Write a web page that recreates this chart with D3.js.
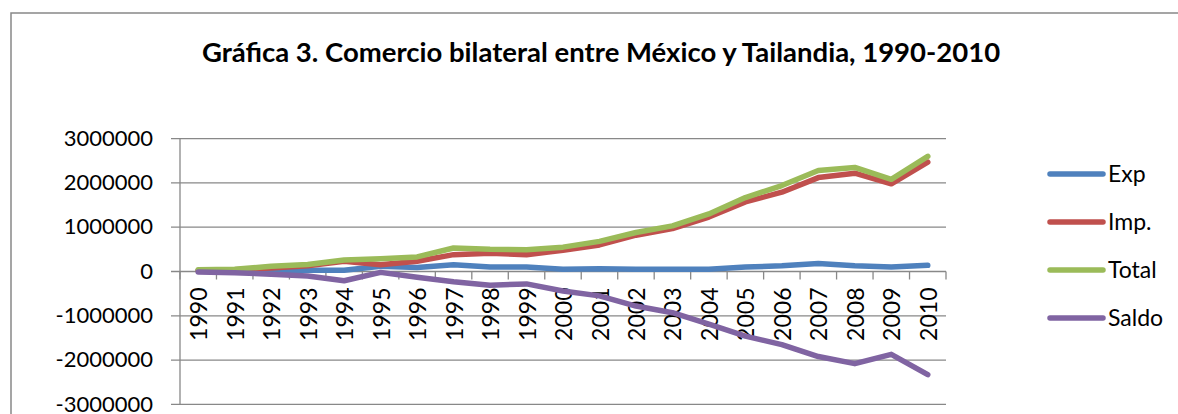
<html>
<head>
<style>
    body { margin:0; background:#fff; }
    svg { display:block; font-family:Lato, "Open Sans", sans-serif; }
</style>
</head>
<body>
<svg></svg>
<script src="https://cdnjs.cloudflare.com/ajax/libs/d3/7.8.5/d3.min.js"></script>
<script>
    const years = ["1990","1991","1992","1993","1994","1995","1996","1997","1998","1999","2000",
                   "2001","2002","2003","2004","2005","2006","2007","2008","2009","2010"];
    const exp   = [20000,10000,20000,30000,30000,120000,90000,150000,100000,100000,50000,
                   60000,50000,50000,50000,100000,130000,180000,130000,100000,140000];
    const imp   = [20000,40000,80000,130000,230000,150000,230000,380000,410000,380000,480000,
                   600000,820000,970000,1230000,1570000,1790000,2120000,2220000,1980000,2470000];
    const total = [40000,50000,120000,160000,260000,290000,330000,530000,500000,490000,550000,
                   680000,880000,1030000,1300000,1670000,1940000,2280000,2350000,2080000,2600000];
    const saldo = [-10000,-30000,-60000,-100000,-210000,-20000,-130000,-230000,-310000,-280000,-440000,
                   -550000,-780000,-930000,-1190000,-1460000,-1650000,-1920000,-2080000,-1870000,-2330000];
    const yTicks = [3000000,2000000,1000000,0,-1000000,-2000000,-3000000];

    const series = [
        {name:"Exp",   values:exp,   color:"#4F81BD"},
        {name:"Imp.",  values:imp,   color:"#C0504D"},
        {name:"Total", values:total, color:"#9BBB59"},
        {name:"Saldo", values:saldo, color:"#8064A2"}
    ];

    const width = 1178, height = 414;
    const plot = {left:180, right:946, top:138.6, bottom:404.4};
    const gridColor = "#888";

    const svg = d3.select("svg").attr("width", width).attr("height", height);

    // chart area border (cut off on the right and bottom in the original)
    svg.append("rect")
        .attr("x", 11).attr("y", 13)
        .attr("width", 1300).attr("height", 600)
        .attr("fill", "none")
        .attr("stroke", gridColor)
        .attr("stroke-width", 1.5);

    svg.append("text")
        .attr("x", 601).attr("y", 62)
        .attr("text-anchor", "middle")
        .attr("font-weight", "bold")
        .attr("font-size", 27.5)
        .text("Gráfica 3. Comercio bilateral entre México y Tailandia, 1990-2010");

    const x = d3.scaleBand().domain(years).range([plot.left, plot.right]);
    const y = d3.scaleLinear().domain([-3000000, 3000000]).range([plot.bottom, plot.top]);
    const cx = d => x(d) + x.bandwidth() / 2;

    // gridlines
    svg.append("g").selectAll("line")
        .data(yTicks)
        .join("line")
        .attr("x1", plot.left - 9).attr("x2", plot.right)
        .attr("y1", d => y(d)).attr("y2", d => y(d))
        .attr("stroke", gridColor)
        .attr("stroke-width", 1.3);

    // y axis line
    svg.append("line")
        .attr("x1", plot.left).attr("x2", plot.left)
        .attr("y1", plot.top).attr("y2", plot.bottom)
        .attr("stroke", gridColor).attr("stroke-width", 1.3);

    svg.append("g").selectAll("text")
        .data(yTicks)
        .join("text")
        .attr("x", 153).attr("y", d => y(d))
        .attr("dy", "0.33em")
        .attr("text-anchor", "end")
        .attr("font-size", 22)
        .text(d => d);

    // x ticks at band edges on the zero line
    const edges = years.map(d => x(d)).concat([plot.right]);
    svg.append("g").selectAll("line")
        .data(edges)
        .join("line")
        .attr("x1", d => d).attr("x2", d => d)
        .attr("y1", y(0)).attr("y2", y(0) + 8)
        .attr("stroke", gridColor).attr("stroke-width", 1.3);

    svg.append("g").selectAll("text")
        .data(years)
        .join("text")
        .attr("transform", d => `translate(${cx(d) + 1},${y(0) + 16}) rotate(-90)`)
        .attr("dy", "0.35em")
        .attr("text-anchor", "end")
        .attr("font-size", 23)
        .text(d => d);

    const line = d3.line()
        .x((v, i) => cx(years[i]))
        .y(v => y(v));

    svg.append("g").selectAll("path")
        .data(series)
        .join("path")
        .attr("d", s => line(s.values))
        .attr("fill", "none")
        .attr("stroke", s => s.color)
        .attr("stroke-width", 5.5)
        .attr("stroke-linecap", "round")
        .attr("stroke-linejoin", "round");

    // legend
    const legend = svg.append("g").selectAll("g")
        .data(series)
        .join("g")
        .attr("transform", (s, i) => `translate(1050,${174 + i * 48})`);
    legend.append("line")
        .attr("x1", 0).attr("x2", 53)
        .attr("stroke", s => s.color)
        .attr("stroke-width", 5.5)
        .attr("stroke-linecap", "round");
    legend.append("text")
        .attr("x", 58)
        .attr("dy", "0.35em")
        .attr("font-size", 23)
        .text(s => s.name);
</script>
</body>
</html>
